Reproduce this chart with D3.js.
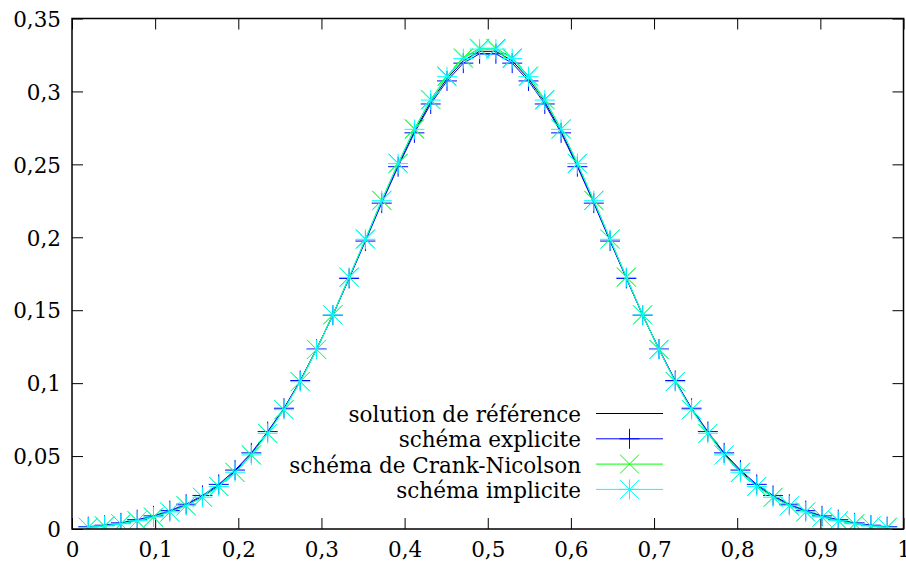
<!DOCTYPE html>
<html>
<head>
<meta charset="utf-8">
<script src="https://cdn.jsdelivr.net/npm/d3@7"></script>
<style>
  html, body { margin: 0; padding: 0; background: #fff; }
  svg { display: block; }
  text { font-family: "DejaVu Serif", serif; fill: #000; }
</style>
</head>
<body>
<svg id="chart" width="906" height="564"></svg>
<script>
// ---- data ----
const xValues = [0.0196,0.0392,0.0588,0.0784,0.0980,0.1176,0.1373,0.1569,0.1765,0.1961,
  0.2157,0.2353,0.2549,0.2745,0.2941,0.3137,0.3333,0.3529,0.3725,0.3922,
  0.4118,0.4314,0.4510,0.4706,0.4902,0.5098,0.5294,0.5490,0.5686,0.5882,
  0.6078,0.6275,0.6471,0.6667,0.6863,0.7059,0.7255,0.7451,0.7647,0.7843,
  0.8039,0.8235,0.8431,0.8627,0.8824,0.9020,0.9216,0.9412,0.9608,0.9804];

const reference = [0.0013,0.0023,0.0038,0.0060,0.0085,0.0120,0.0164,0.0223,0.0298,0.0396,
  0.0515,0.0662,0.0823,0.1014,0.1232,0.1467,0.1722,0.1980,0.2242,0.2495,
  0.2728,0.2928,0.3088,0.3210,0.3275,0.3275,0.3210,0.3088,0.2928,0.2728,
  0.2495,0.2242,0.1980,0.1722,0.1467,0.1232,0.1014,0.0823,0.0662,0.0515,
  0.0396,0.0298,0.0223,0.0164,0.0120,0.0085,0.0060,0.0038,0.0023,0.0013];

const explicite = [0.0016,0.0026,0.0042,0.0064,0.0090,0.0126,0.0170,0.0230,0.0306,0.0404,
  0.0522,0.0668,0.0828,0.1018,0.1234,0.1466,0.1718,0.1974,0.2234,0.2484,
  0.2716,0.2914,0.3072,0.3194,0.3258,0.3258,0.3194,0.3072,0.2914,0.2716,
  0.2484,0.2234,0.1974,0.1718,0.1466,0.1234,0.1018,0.0828,0.0668,0.0522,
  0.0404,0.0306,0.0230,0.0170,0.0126,0.0090,0.0064,0.0042,0.0026,0.0016];

const crankNicolson = [0.0011,0.0020,0.0035,0.0056,0.0081,0.0116,0.0159,0.0217,0.0291,0.0388,
  0.0507,0.0655,0.0818,0.1011,0.1232,0.1469,0.1728,0.1989,0.2254,0.2508,
  0.2744,0.2945,0.3106,0.3230,0.3296,0.3296,0.3230,0.3106,0.2945,0.2744,
  0.2508,0.2254,0.1989,0.1728,0.1469,0.1232,0.1011,0.0818,0.0655,0.0507,
  0.0388,0.0291,0.0217,0.0159,0.0116,0.0081,0.0056,0.0035,0.0020,0.0011];

const implicite = [0.0012,0.0021,0.0036,0.0057,0.0082,0.0117,0.0160,0.0218,0.0292,0.0389,
  0.0508,0.0656,0.0818,0.1010,0.1230,0.1467,0.1725,0.1986,0.2251,0.2505,
  0.2740,0.2941,0.3101,0.3225,0.3290,0.3290,0.3225,0.3101,0.2941,0.2740,
  0.2505,0.2251,0.1986,0.1725,0.1467,0.1230,0.1010,0.0818,0.0656,0.0508,
  0.0389,0.0292,0.0218,0.0160,0.0117,0.0082,0.0057,0.0036,0.0021,0.0012];

const xTicks = [0,0.1,0.2,0.3,0.4,0.5,0.6,0.7,0.8,0.9,1];
const xTickLabels = ["0","0,1","0,2","0,3","0,4","0,5","0,6","0,7","0,8","0,9","1"];
const yTicks = [0,0.05,0.1,0.15,0.2,0.25,0.3,0.35];
const yTickLabels = ["0","0,05","0,1","0,15","0,2","0,25","0,3","0,35"];

const seriesNames = ["solution de référence","schéma explicite","schéma de Crank-Nicolson","schéma implicite"];
const seriesColors = ["#000000","#0000ff","#00ff00","#00ffff"];
const seriesMarkers = ["none","plus","cross","star"];
const seriesValues = [reference, explicite, crankNicolson, implicite];

// ---- layout ----
const pLeft = 72, pRight = 903.5, pTop = 18.5, pBottom = 529;
const svg = d3.select("#chart");
const x = d3.scaleLinear().domain([0,1]).range([pLeft,pRight]);
const y = d3.scaleLinear().domain([0,0.35]).range([pBottom,pTop]);
const tickLen = 11;
const fontSize = 21.5;
const fontFam = '"DejaVu Serif", serif';

// ticks (all four sides, inward)
const axB = d3.axisBottom(x).tickValues(xTicks).tickSize(-tickLen).tickFormat((d,i)=>xTickLabels[i]).tickPadding(13);
const axT = d3.axisTop(x).tickValues(xTicks).tickSize(-tickLen).tickFormat("");
const axL = d3.axisLeft(y).tickValues(yTicks).tickSize(-tickLen).tickFormat((d,i)=>yTickLabels[i]).tickPadding(11);
const axR = d3.axisRight(y).tickValues(yTicks).tickSize(-tickLen).tickFormat("");

function styleAxis(g){
  g.attr("font-family", fontFam).attr("font-size", fontSize);
  g.select(".domain").remove();
  g.selectAll(".tick line").attr("stroke","#000").attr("stroke-width",1);
  g.selectAll(".tick text").style("font-family",fontFam).style("font-size",fontSize+"px").attr("fill","#000");
}
svg.append("g").attr("transform",`translate(0,${pBottom})`).call(axB).call(styleAxis);
svg.append("g").attr("transform",`translate(0,${pTop})`).call(axT).call(styleAxis);
svg.append("g").attr("transform",`translate(${pLeft},0)`).call(axL).call(styleAxis)
   .selectAll(".tick text").attr("dy","0.36em");
svg.append("g").attr("transform",`translate(${pRight},0)`).call(axR).call(styleAxis);

// clip
svg.append("clipPath").attr("id","clip").append("rect")
  .attr("x",pLeft).attr("y",pTop).attr("width",pRight-pLeft).attr("height",pBottom-pTop);

const plot = svg.append("g").attr("clip-path","url(#clip)");
const line = d3.line().x(d=>x(d[0])).y(d=>y(d[1]));

function markerPath(type, cx, cy){
  const h = 10, d = 9.5;
  let p = "";
  if (type==="plus" || type==="star") p += `M${cx-h},${cy}H${cx+h}M${cx},${cy-h}V${cy+h}`;
  if (type==="cross" || type==="star") p += `M${cx-d},${cy-d}L${cx+d},${cy+d}M${cx-d},${cy+d}L${cx+d},${cy-d}`;
  return p;
}

seriesValues.forEach((vals, s) => {
  const pts = xValues.map((xv,i)=>[xv, vals[i]]);
  const g = plot.append("g");
  g.append("path").attr("d", line(pts)).attr("fill","none")
    .attr("stroke", seriesColors[s]).attr("stroke-width",1);
  if (seriesMarkers[s] !== "none") {
    g.selectAll("path.m").data(pts).enter().append("path").attr("class","m")
      .attr("d", d=>markerPath(seriesMarkers[s], x(d[0]), y(d[1])))
      .attr("fill","none").attr("stroke", seriesColors[s]).attr("stroke-width",1);
  }
});

// border
svg.append("rect").attr("x",pLeft).attr("y",pTop).attr("width",pRight-pLeft).attr("height",pBottom-pTop)
  .attr("fill","none").attr("stroke","#000").attr("stroke-width",1.5);

// legend
const legTextX = 581, legX0 = 596, legX1 = 663, legY0 = 413.5, legDY = 25.3;
const leg = svg.append("g");
seriesNames.forEach((name, s) => {
  const cy = legY0 + s*legDY;
  leg.append("text").attr("x",legTextX).attr("y",cy + 8.5).attr("text-anchor","end")
    .style("font-family",fontFam).style("font-size",fontSize+"px").text(name);
  leg.append("line").attr("x1",legX0).attr("x2",legX1).attr("y1",cy).attr("y2",cy)
    .attr("stroke",seriesColors[s]).attr("stroke-width",1);
  if (seriesMarkers[s] !== "none") {
    leg.append("path").attr("d", markerPath(seriesMarkers[s], (legX0+legX1)/2, cy))
      .attr("fill","none").attr("stroke",seriesColors[s]).attr("stroke-width",1);
  }
});
</script>
</body>
</html>
